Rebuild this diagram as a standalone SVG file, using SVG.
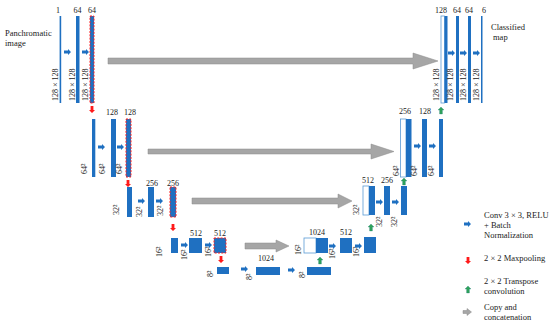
<svg xmlns="http://www.w3.org/2000/svg" xmlns:xlink="http://www.w3.org/1999/xlink" width="550" height="325" viewBox="0 0 550 325">
<style>
text{font-family:"Liberation Serif","Times New Roman",serif;fill:#222}
.lb{font-size:8px;text-anchor:middle}
.vt{font-size:8px}
.tx{font-size:8.5px}
.bar{fill:#1f70c1}
.open{fill:#fff;stroke:#5b9bd5;stroke-width:0.8}
.pool{stroke:#ff2020;stroke-width:1;stroke-dasharray:2 1.3}
.copy{fill:#a6a6a6;stroke:#8a8a8a;stroke-width:0.5}
</style>
<defs>
<path id="ra" d="M0,-1.4 H4 V-3 L7,0 L4,3 V1.4 H0 Z" fill="#1f70c1"/>
<path id="da" d="M-1.4,0 V4 H-3 L0,7 L3,4 H1.4 V0 Z" fill="#ff1a1a"/>
<path id="ua" d="M-1.4,0 V-4 H-3 L0,-7 L3,-4 H1.4 V0 Z" fill="#2fa35a" stroke="#1f7a7a" stroke-width="0.3"/>
</defs>
<rect width="550" height="325" fill="#fff"/>

<g id="input-label"><text class="tx" x="5" y="36">Panchromatic</text><text class="tx" x="5" y="46">image</text></g>
<g id="output-label"><text class="tx" x="491" y="30">Classified</text><text class="tx" x="493" y="40">map</text></g>

<!-- Level 1 encoder -->
<g id="enc1">
<rect class="bar" x="59.6" y="16" width="1.6" height="87"/>
<rect class="bar" x="76" y="16" width="3.5" height="87"/>
<rect class="bar pool" x="90" y="16" width="4" height="87"/>
<text class="lb" x="58" y="13">1</text><text class="lb" x="77.5" y="13">64</text><text class="lb" x="92" y="13">64</text>
<text class="vt" transform="translate(58,101) rotate(-90)">128 × 128</text>
<text class="vt" transform="translate(75,101) rotate(-90)">128 × 128</text>
<text class="vt" transform="translate(88,101) rotate(-90)">128 × 128</text>
</g>
<!-- Level 2 encoder -->
<g id="enc2">
<rect class="bar" x="92" y="119" width="3.3" height="58"/>
<rect class="bar" x="111" y="119" width="5" height="58"/>
<rect class="bar pool" x="126" y="119" width="5" height="58"/>
<text class="lb" x="112" y="115">128</text><text class="lb" x="130" y="115">128</text>
<text class="vt" transform="translate(87,174) rotate(-90)">64²</text>
<text class="vt" transform="translate(105,174) rotate(-90)">64²</text>
<text class="vt" transform="translate(122,174) rotate(-90)">64²</text>
</g>
<!-- Level 3 encoder -->
<g id="enc3">
<rect class="bar" x="127" y="187" width="5" height="30"/>
<rect class="bar" x="148" y="187" width="6" height="30"/>
<rect class="bar pool" x="170" y="187" width="6" height="30"/>
<text class="lb" x="152" y="186">256</text><text class="lb" x="173" y="186">256</text>
<text class="vt" transform="translate(119,215) rotate(-90)">32²</text>
<text class="vt" transform="translate(142,217) rotate(-90)">32²</text>
<text class="vt" transform="translate(163,216) rotate(-90)">32²</text>
</g>
<!-- Level 4 encoder -->
<g id="enc4">
<rect class="bar" x="171" y="238" width="7" height="15"/>
<rect class="bar" x="189" y="238" width="13" height="15"/>
<rect class="bar pool" x="214" y="238" width="12" height="15"/>
<text class="lb" x="196" y="236">512</text><text class="lb" x="220" y="236">512</text>
<text class="vt" transform="translate(162,257) rotate(-90)">16²</text>
<text class="vt" transform="translate(187,260) rotate(-90)">16²</text>
<text class="vt" transform="translate(211,257) rotate(-90)">16²</text>
</g>
<!-- Bottleneck -->
<g id="bottleneck">
<rect class="bar" x="217" y="267" width="12" height="7"/>
<rect class="bar" x="256" y="267" width="24" height="8"/>
<text class="lb" x="266" y="261">1024</text>
<text class="vt" transform="translate(213,277) rotate(-90)">8²</text>
<text class="vt" transform="translate(252,280) rotate(-90)">8²</text>
</g>
<!-- Level 4 decoder -->
<g id="dec4">
<rect class="bar" x="307" y="267" width="24" height="8"/>
<text class="vt" transform="translate(305,278) rotate(-90)">8²</text>
<rect class="open" x="304" y="238" width="12" height="15"/>
<rect class="bar" x="316" y="238" width="12" height="15"/>
<rect class="bar" x="340" y="238" width="12" height="15"/>
<rect class="bar" x="364" y="237" width="12" height="16"/>
<text class="lb" x="317" y="235">1024</text><text class="lb" x="346" y="235">512</text>
<text class="vt" transform="translate(301,255) rotate(-90)">16²</text>
<text class="vt" transform="translate(335,259) rotate(-90)">16²</text>
<text class="vt" transform="translate(359,257) rotate(-90)">16²</text>
</g>
<!-- Level 3 decoder -->
<g id="dec3">
<rect class="open" x="363" y="186" width="6" height="29"/>
<rect class="bar" x="369" y="186" width="6" height="29"/>
<rect class="bar" x="384" y="186" width="6" height="29"/>
<rect class="bar" x="401" y="186" width="6" height="29"/>
<text class="lb" x="368" y="183">512</text><text class="lb" x="387" y="183">256</text>
<text class="vt" transform="translate(359,215) rotate(-90)">32²</text>
<text class="vt" transform="translate(382,227) rotate(-90)">32²</text>
<text class="vt" transform="translate(397,227) rotate(-90)">32²</text>
</g>
<!-- Level 2 decoder -->
<g id="dec2">
<rect class="open" x="400.5" y="119" width="5.5" height="58"/>
<rect class="bar" x="406" y="119" width="5.5" height="58"/>
<rect class="bar" x="422" y="119" width="5" height="58"/>
<rect class="bar" x="439" y="119" width="4" height="58"/>
<text class="lb" x="405" y="114">256</text><text class="lb" x="425" y="114">128</text>
<text class="vt" transform="translate(399,176) rotate(-90)">64²</text>
<text class="vt" transform="translate(417,176) rotate(-90)">64²</text>
<text class="vt" transform="translate(434,176) rotate(-90)">64²</text>
</g>
<!-- Level 1 decoder -->
<g id="dec1">
<rect class="open" x="441" y="16" width="3.5" height="87"/>
<rect class="bar" x="444.5" y="16" width="3" height="87"/>
<rect class="bar" x="456" y="16" width="3" height="87"/>
<rect class="bar" x="468" y="16" width="3" height="87"/>
<rect class="bar" x="481" y="16" width="1.5" height="87"/>
<text class="lb" x="441" y="13">128</text><text class="lb" x="457" y="13">64</text><text class="lb" x="469" y="13">64</text><text class="lb" x="484" y="13">6</text>
<text class="vt" transform="translate(439,101) rotate(-90)">128 × 128</text>
<text class="vt" transform="translate(453,101) rotate(-90)">128 × 128</text>
<text class="vt" transform="translate(466,101) rotate(-90)">128 × 128</text>
<text class="vt" transform="translate(479,101) rotate(-90)">128 × 128</text>
</g>

<g id="connectors">
<!-- skip connections -->
<path class="copy" d="M108,58 H413 V53 L438,61 L413,69 V64 H108 Z"/>
<path class="copy" d="M148,149 H371 V144 L394,151.5 L371,159 V154 H148 Z"/>
<path class="copy" d="M192,198 H338 V194 L352,201 L338,208 V204 H192 Z"/>
<path class="copy" d="M245,243 H276 V240 L289,246 L276,252 V249 H245 Z"/>
<!-- conv arrows -->
<use href="#ra" x="64" y="52"/><use href="#ra" x="82" y="52"/>
<use href="#ra" x="98" y="147"/><use href="#ra" x="117" y="147"/>
<use href="#ra" x="138" y="201"/><use href="#ra" x="156" y="201"/>
<use href="#ra" x="181" y="245"/><use href="#ra" x="205" y="245"/>
<use href="#ra" x="241" y="269"/><use href="#ra" x="288" y="270"/>
<use href="#ra" x="329" y="246"/><use href="#ra" x="355" y="246"/>
<use href="#ra" x="376" y="202"/><use href="#ra" x="392" y="202"/>
<use href="#ra" x="414" y="146"/><use href="#ra" x="429" y="146"/>
<use href="#ra" x="448" y="53"/><use href="#ra" x="460" y="53"/><use href="#ra" x="473" y="53"/>
<!-- maxpool arrows -->
<use href="#da" x="92" y="106"/>
<use href="#da" x="128" y="180"/>
<use href="#da" x="173" y="224"/>
<use href="#da" x="221" y="256"/>
<!-- transpose conv arrows -->
<use href="#ua" x="320" y="264"/>
<use href="#ua" x="371" y="231"/>
<use href="#ua" x="404" y="185"/>
<use href="#ua" x="441" y="114"/>
</g>

<g id="legend">
<use href="#ra" x="464" y="224"/>
<text class="tx" x="484" y="218">Conv 3 × 3, RELU</text>
<text class="tx" x="484" y="228">+ Batch</text>
<text class="tx" x="484" y="238">Normalization</text>
<use href="#da" x="468" y="257"/>
<text class="tx" x="484" y="261">2 × 2 Maxpooling</text>
<use href="#ua" x="468" y="293"/>
<text class="tx" x="484" y="284">2 × 2 Transpose</text>
<text class="tx" x="484" y="294">convolution</text>
<path class="copy" d="M463,310.5 H467 V308.5 L471.5,312 L467,315.5 V313.5 H463 Z"/>
<text class="tx" x="484" y="310">Copy and</text>
<text class="tx" x="484" y="320">concatenation</text>
</g>
</svg>
